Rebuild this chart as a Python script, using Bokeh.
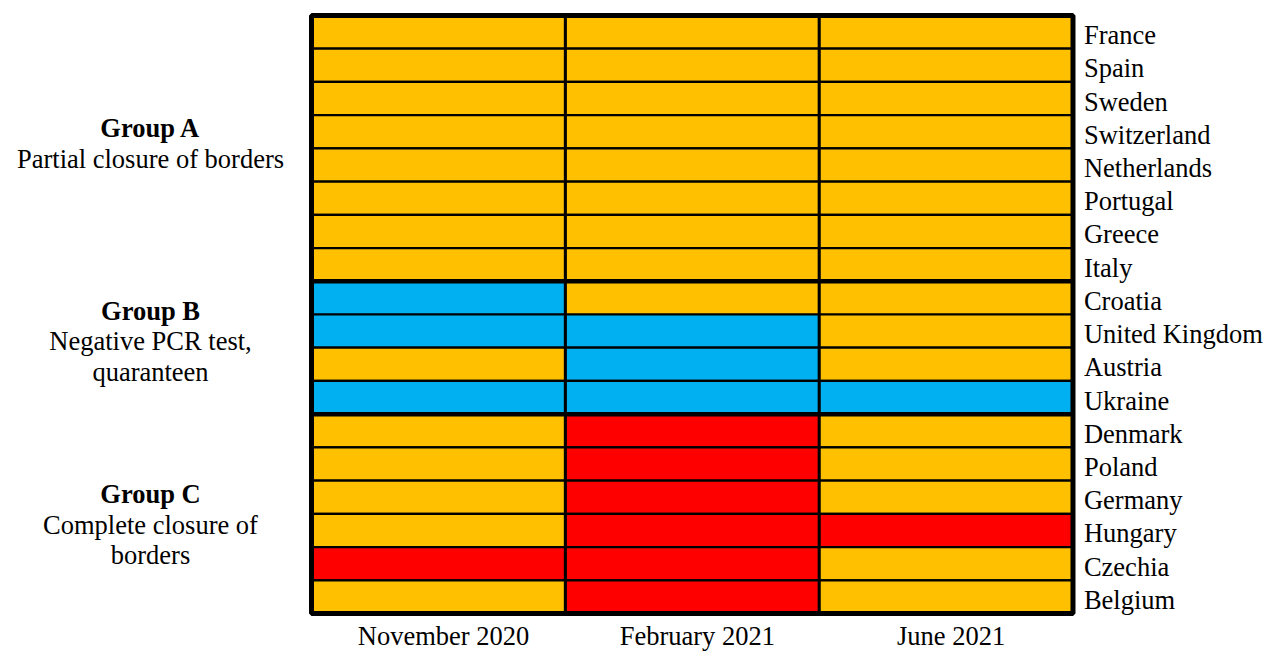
from bokeh.plotting import figure
from bokeh.models import Range1d, ColumnDataSource
from bokeh.core.properties import value
from bokeh.embed import file_html
from bokeh.resources import INLINE

# ---------------- data ----------------
periods = ["November 2020", "February 2021", "June 2021"]
countries = ["France", "Spain", "Sweden", "Switzerland", "Netherlands", "Portugal",
             "Greece", "Italy", "Croatia", "United Kingdom", "Austria", "Ukraine",
             "Denmark", "Poland", "Germany", "Hungary", "Czechia", "Belgium"]
# measure per country: P = partial closure, T = PCR test/quarantine, C = complete closure
nov_2020 = ["P", "P", "P", "P", "P", "P", "P", "P", "T", "T", "P", "T", "P", "P", "P", "P", "C", "P"]
feb_2021 = ["P", "P", "P", "P", "P", "P", "P", "P", "P", "T", "T", "T", "C", "C", "C", "C", "C", "C"]
jun_2021 = ["P", "P", "P", "P", "P", "P", "P", "P", "P", "P", "P", "T", "P", "P", "P", "C", "P", "P"]
group_titles = ["Group A", "Group B", "Group C"]
group_texts = [["Partial closure of borders"], ["Negative PCR test,", "quaranteen"],
               ["Complete closure of", "borders"]]
group_sizes = [8, 4, 6]

colors = {"P": "#FFC000", "T": "#00B0F0", "C": "#FF0000"}
FONT = "Liberation Serif"
FS = "26.5px"

n = len(countries)
W, H = 1271, 652
# layout (pixels inside the figure)
gx0, gx1 = 311, 1072.5
gy0, gy1 = 15, 613
pxx = (gx1 - gx0) / len(periods)
pxy = (gy1 - gy0) / n
xr = Range1d(-gx0 / pxx, (W - gx0) / pxx)
yr = Range1d(n - (H - gy0) / pxy, n + gy0 / pxy)

p = figure(width=W, height=H, x_range=xr, y_range=yr, output_backend="svg",
           toolbar_location=None, min_border=0)
p.axis.visible = False
p.grid.visible = False
p.outline_line_color = None

# cells
xs, ys, cs = [], [], []
for ci, col in enumerate([nov_2020, feb_2021, jun_2021]):
    for ri, m in enumerate(col):
        xs.append(ci + 0.5)
        ys.append(n - ri - 0.5)
        cs.append(colors[m])
src = ColumnDataSource(dict(x=xs, y=ys, c=cs))
p.rect("x", "y", width=1, height=1, source=src, fill_color="c",
       line_color="black", line_width=2.2)

# column separators
for ci in range(1, len(periods)):
    p.line([ci, ci], [0, n], line_color="black", line_width=3)

# group separators
acc = 0
for g in group_sizes[:-1]:
    acc += g
    p.line([0, len(periods)], [n - acc, n - acc], line_color="black", line_width=4.5)

# outer border
p.rect([len(periods) / 2], [n / 2], width=len(periods), height=n, fill_color=None,
       line_color="black", line_width=5)

# country labels
p.text(x=[len(periods) + 0.043] * n, y=[n - i - 0.5 - 0.09 for i in range(n)], text=countries,
       text_font=value(FONT), text_font_size=FS, text_baseline="middle",
       text_align="left", text_color="black")

# period labels
p.text(x=[i + 0.5 + 0.02 for i in range(len(periods))], y=[(gy1 - 650) / pxy] * len(periods),
       text=periods, text_font=value(FONT), text_font_size=FS, text_baseline="bottom",
       text_align="center", text_color="black")

# group labels
gx = (150 - gx0) / pxx
top = n
offs = [0.15, 0.19, -0.33]
lh = 0.92
for gi, (title, lines, sz) in enumerate(zip(group_titles, group_texts, group_sizes)):
    center = top - sz / 2 + offs[gi]
    nl = 1 + len(lines)
    y0 = center + (nl - 1) / 2 * lh
    p.text(x=[gx], y=[y0], text=[title], text_font=value(FONT), text_font_size=FS,
           text_font_style="bold", text_baseline="middle", text_align="center",
           text_color="black")
    p.text(x=[gx] * len(lines), y=[y0 - (k + 1) * lh for k in range(len(lines))], text=lines,
           text_font=value(FONT), text_font_size=FS, text_baseline="middle",
           text_align="center", text_color="black")
    top -= sz

open("out.html", "w").write(file_html(p, INLINE))
